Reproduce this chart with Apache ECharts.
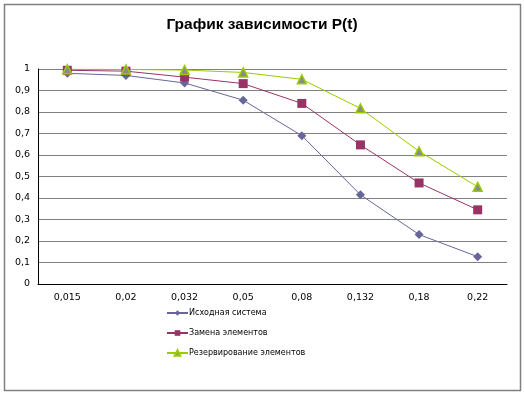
<!DOCTYPE html>
<html><head><meta charset="utf-8">
<script src="https://cdn.jsdelivr.net/npm/echarts@6/dist/echarts.min.js"></script>
<style>html,body{margin:0;padding:0;background:#fff}#c{width:524px;height:394px}</style>
</head><body><div id="c"></div>
<script>
const categories = ['0,015','0,02','0,032','0,05','0,08','0,132','0,18','0,22'];
const seriesNames = ['Исходная система','Замена элементов','Резервирование элементов'];
const original = [0.98, 0.97, 0.935, 0.855, 0.69, 0.415, 0.23, 0.127];
const replacement = [0.994, 0.99, 0.962, 0.932, 0.84, 0.647, 0.47, 0.345];
const redundancy = [0.999, 0.998, 0.995, 0.984, 0.952, 0.817, 0.617, 0.452];
const yTicks = [0, 0.1, 0.2, 0.3, 0.4, 0.5, 0.6, 0.7, 0.8, 0.9, 1];

const chart = echarts.init(document.getElementById('c'));
const lbl = {color:'#000', fontFamily:'DejaVu Sans', fontSize:9.5};
chart.setOption({
  animation:false,
  graphic:[{type:'rect', shape:{x:4.5,y:4.5,width:516,height:386}, style:{fill:'none', stroke:'#808080', lineWidth:1.5}, silent:true}],
  title:{text:'График зависимости P(t)', left:'center', top:12,
    textStyle:{fontFamily:'Liberation Sans', fontWeight:'bold', fontSize:15.5, color:'#000'}},
  grid:{left:38, right:17, top:69, bottom:110},
  legend:{orient:'vertical', left:161, top:304, itemGap:12, itemWidth:21, itemHeight:7,
    textStyle:{fontFamily:'DejaVu Sans', fontSize:8, color:'#000', padding:[0,0,0,-4]}, data:seriesNames},
  xAxis:[{type:'category', data:categories, boundaryGap:true,
    axisLine:{lineStyle:{color:'#000'}}, axisTick:{alignWithLabel:true, length:4, lineStyle:{color:'#000'}},
    axisLabel:Object.assign({margin:9}, lbl)},
   {type:'category', data:categories, boundaryGap:true, position:'bottom',
    axisLine:{show:false}, axisTick:{length:4, lineStyle:{color:'#000'}}, axisLabel:{show:false}}],
  yAxis:{type:'value', min:0, max:1, interval:0.1,
    axisLine:{show:true, lineStyle:{color:'#000'}}, axisTick:{show:false},
    splitLine:{lineStyle:{color:'#808080', width:1}},
    axisLabel:Object.assign({margin:8, formatter:v=>{const t=yTicks.find(x=>Math.abs(x-v)<1e-9);return String(Math.round((t!==undefined?t:v)*10)/10).replace('.',',');}}, lbl)},
  series:[
    {name:seriesNames[0], type:'line', data:original, symbol:'diamond', symbolSize:9,
      itemStyle:{color:'#666699'}, lineStyle:{color:'#666699', width:1}},
    {name:seriesNames[1], type:'line', data:replacement, symbol:'rect', symbolSize:9,
      itemStyle:{color:'#993366'}, lineStyle:{color:'#993366', width:1}},
    {name:seriesNames[2], type:'line', data:redundancy, symbol:'triangle', symbolSize:9,
      itemStyle:{color:'#8a8a8a', borderColor:'#99cc00', borderWidth:1.5}, lineStyle:{color:'#99cc00', width:1}}
  ]
});
</script></body></html>
